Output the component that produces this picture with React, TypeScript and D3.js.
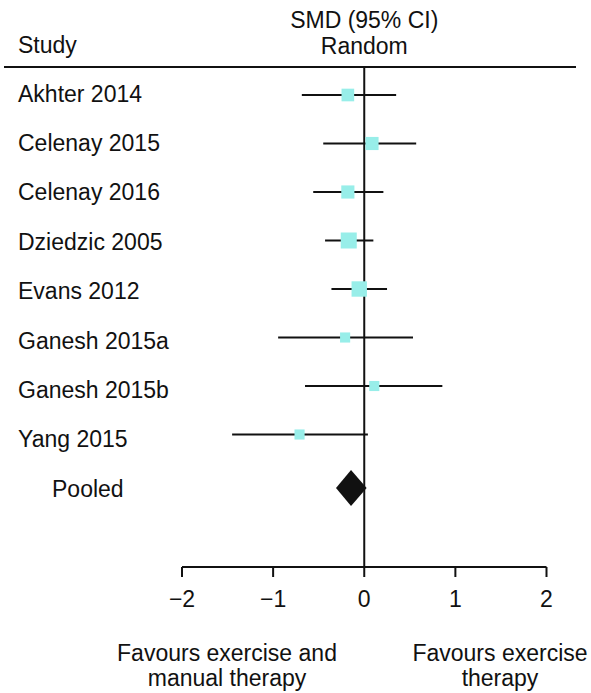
import React from "react";
import * as d3 from "d3";

const studies = [
  "Akhter 2014",
  "Celenay 2015",
  "Celenay 2016",
  "Dziedzic 2005",
  "Evans 2012",
  "Ganesh 2015a",
  "Ganesh 2015b",
  "Yang 2015",
];
const smd = [-0.18, 0.085, -0.18, -0.17, -0.055, -0.21, 0.11, -0.71];
const lower = [-0.685, -0.45, -0.56, -0.43, -0.36, -0.945, -0.65, -1.45];
const upper = [0.35, 0.57, 0.21, 0.1, 0.25, 0.535, 0.857, 0.04];
const weights = [12.5, 13.5, 13.5, 20, 18.5, 8, 8, 8];

const pooledLabel = "Pooled";
const pooled = { est: -0.145, lo: -0.31, hi: 0.026 };

const xTicks = [-2, -1, 0, 1, 2];

const W = 591;
const H = 693;
const FONT = "'Liberation Sans', Arial, Helvetica, sans-serif";
const FS = 23;
const INK = "#111";
const FILL = "#98EEE9";

export default function App() {
  const x = d3.scaleLinear().domain([-2, 2]).range([182, 546.5]);
  const y = d3.scalePoint<string>().domain(studies).range([95, 434.5]);
  const yLabel = d3
    .scalePoint<string>()
    .domain([...studies, pooledLabel])
    .range([101.5, 496.7]);
  const yPooled = 488;
  const side = d3.scaleSqrt().domain([0, 20]).range([0, 16]);
  const axisY = 567;
  const headerY = 67;
  const fmt = d3.format("");

  return (
    <svg
      width={W}
      height={H}
      style={{ position: "absolute", left: 0, top: 0, background: "#fff" }}
      fontFamily={FONT}
      fontSize={FS}
      fill={INK}
    >
      {/* header */}
      <text x={18} y={52.5}>Study</text>
      <text x={x(0)} y={28} textAnchor="middle">SMD (95% CI)</text>
      <text x={x(0)} y={54} textAnchor="middle">Random</text>
      <line x1={4} x2={576} y1={headerY} y2={headerY} stroke={INK} strokeWidth={2} />

      {/* zero line */}
      <line x1={x(0)} x2={x(0)} y1={headerY} y2={axisY} stroke={INK} strokeWidth={2} />

      {/* studies */}
      {studies.map((s, i) => {
        const cy = y(s) as number;
        const sz = side(weights[i]);
        return (
          <g key={s}>
            <text x={18} y={yLabel(s) as number}>{s}</text>
            <line x1={x(lower[i])} x2={x(upper[i])} y1={cy} y2={cy} stroke={INK} strokeWidth={2} />
            <rect x={x(smd[i]) - sz / 2} y={cy - sz / 2} width={sz} height={sz} fill={FILL} />
          </g>
        );
      })}

      {/* pooled */}
      <text x={52} y={yLabel(pooledLabel) as number}>{pooledLabel}</text>
      <path
        d={`M${x(pooled.lo)},${yPooled} L${x(pooled.est)},${yPooled - 18} L${x(pooled.hi)},${yPooled} L${x(pooled.est)},${yPooled + 18} Z`}
        fill={INK}
      />

      {/* axis */}
      <line x1={x(-2)} x2={x(2)} y1={axisY} y2={axisY} stroke={INK} strokeWidth={2} />
      {xTicks.map((t) => (
        <g key={t}>
          <line x1={x(t)} x2={x(t)} y1={axisY} y2={axisY + 10} stroke={INK} strokeWidth={2} />
          <text x={x(t)} y={606.5} textAnchor="middle">{t < 0 ? "\u2212" + fmt(-t) : fmt(t)}</text>
        </g>
      ))}

      {/* favours labels */}
      <text x={227} y={660.5} textAnchor="middle">Favours exercise and</text>
      <text x={227} y={686} textAnchor="middle">manual therapy</text>
      <text x={500} y={660.5} textAnchor="middle">Favours exercise</text>
      <text x={500} y={686} textAnchor="middle">therapy</text>
    </svg>
  );
}
